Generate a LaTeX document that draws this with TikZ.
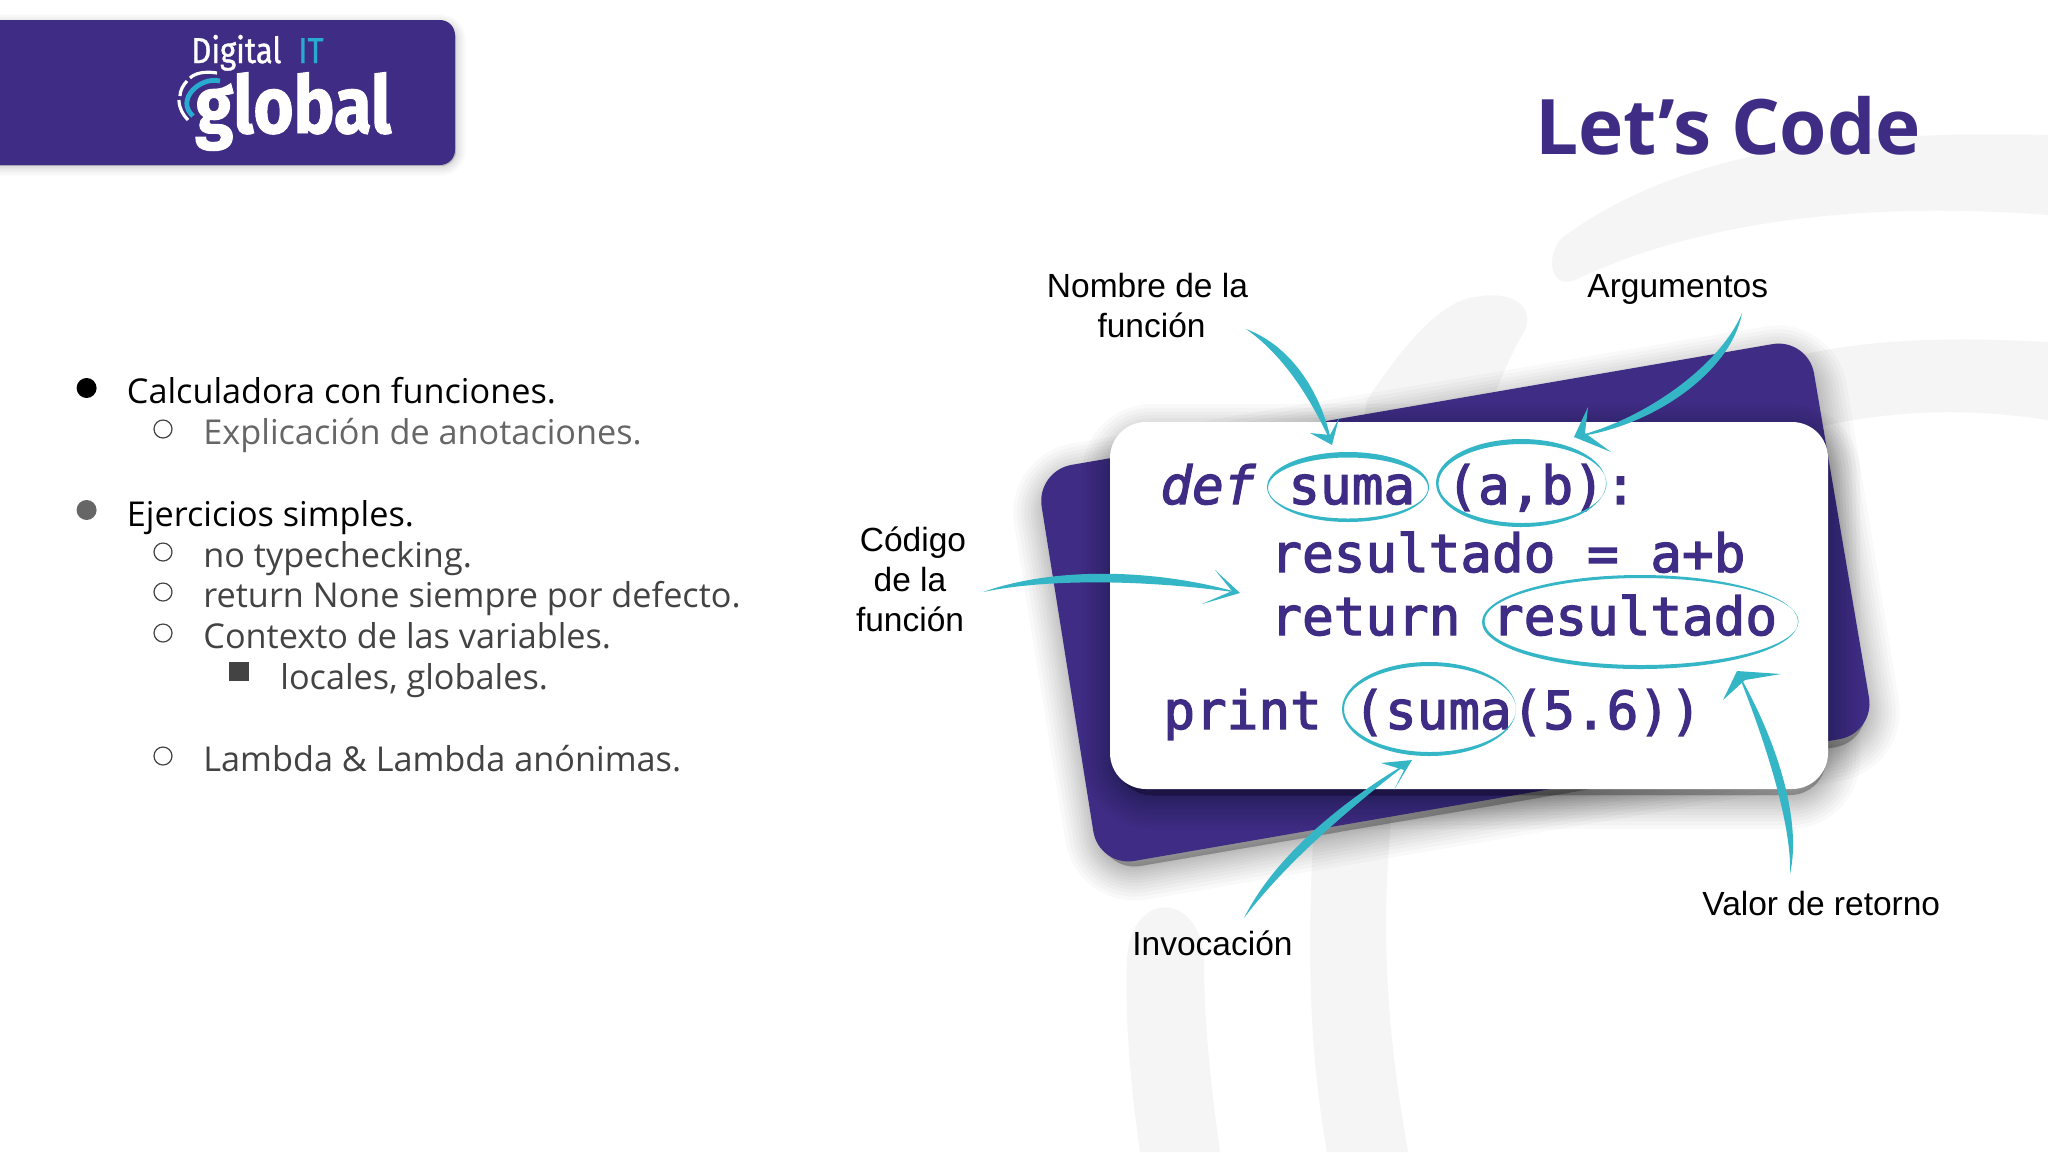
\documentclass[tikz,border=0pt]{standalone}
\usepackage{fontspec}
\setmainfont{Open Sans}
\newfontfamily\lblfont{Liberation Sans}
\newfontfamily\codefont[FakeBold=2.4]{DejaVu Sans Mono}
\newfontfamily\logofont[FakeStretch=0.86,FakeBold=1]{Fira Sans}
\newfontfamily\logobigfont[FakeStretch=0.86,FakeBold=1.2]{Fira Sans Bold}
\definecolor{brandpurple}{HTML}{3F2D85}
\definecolor{brandteal}{HTML}{35B6C6}
\definecolor{logocyan}{HTML}{29ABD0}
\definecolor{swirl}{HTML}{F5F5F5}
\definecolor{textdark}{HTML}{434343}
\definecolor{textgrey}{HTML}{666666}
\tikzset{
  lvlone/.style={anchor=base west,inner sep=0pt,font=\fontsize{17.12}{20}\selectfont,text=black},
  lvltwo/.style={anchor=base west,inner sep=0pt,font=\fontsize{17.12}{20}\selectfont,text=textdark},
  lbl/.style={inner sep=0pt,align=center,text=black,font=\lblfont\fontsize{16.75}{20}\selectfont},
  codetxt/.style={anchor=base west,inner sep=0pt,text=brandpurple,font=\codefont\fontsize{26.3}{30}\selectfont},
  ringo/.style={fill=brandteal,even odd rule,draw=none},
  openb/.style={draw=textdark,line width=.6pt,fill=white},
  arrowfill/.style={fill=brandteal,draw=none},
}
\newcommand{\softshadow}[4]{%
  \foreach \w in {3,7,11,15,20,25,30,36,42,48,55,62}{
    \draw[black,fill=black,opacity=#3,transparency group,line width=\w*#4pt,line join=round,shift={(#1)}] #2;
  }}
\newcommand{\ringshape}[7]{\fill[ringo] (#1,#2) ellipse [x radius=#3,y radius=#4] (#5,#6) ellipse [x radius=#3-1,y radius=#7];}
\begin{document}
\begin{tikzpicture}[x=.5pt,y=-.5pt]
\useasboundingbox (0,0) rectangle (2048,1152);
\fill[white] (0,0) rectangle (2048,1152);
% swirl background
\fill[swirl] (2048,135) .. controls (1850,130) and (1680,150) .. (1562,238) .. controls (1545,255) and (1550,290) .. (1575,280) .. controls (1690,225) and (1850,200) .. (2048,215) -- cycle;
\fill[swirl] (1700,390) .. controls (1800,340) and (1920,335) .. (2048,342) -- (2048,420) .. controls (1950,405) and (1850,410) .. (1740,450) -- cycle;
\fill[swirl] (1327,1152) .. controls (1300,1000) and (1300,800) .. (1367,400) .. controls (1400,350) and (1440,300) .. (1476,297) .. controls (1510,290) and (1535,305) .. (1525,330) .. controls (1470,420) and (1400,700) .. (1390,833) .. controls (1380,950) and (1390,1050) .. (1408,1152) -- cycle;
\fill[swirl] (1140,1152) .. controls (1130,1080) and (1125,1020) .. (1127,960) .. controls (1130,890) and (1200,890) .. (1204,960) .. controls (1204,1020) and (1210,1080) .. (1220,1152) -- cycle;
% logo banner
\softshadow{4,4}{[rounded corners=7.5pt] (-20,20) rectangle (452,162)}{.012}{.16}
\fill[brandpurple,rounded corners=7.5pt] (-20,20) rectangle (455,165);
\node[anchor=base west,inner sep=0pt,text=white,font=\logofont\fontsize{18}{20}\selectfont] (logoA) at (191,63) {Digital};
\node[anchor=base west,inner sep=0pt,text=logocyan,font=\logofont\fontsize{18}{20}\selectfont] (logoB) at (298,63) {IT};
\node[anchor=base west,inner sep=0pt,text=white,font=\logobigfont\fontsize{40}{44}\selectfont] (logoC) at (195,133) {global};
\draw[logocyan,line width=2.4pt] (220,81) .. controls (200,76) and (175,100) .. (193,116);
\draw[white,line width=1.6pt] (217,73) .. controls (205,71) and (195,73) .. (190,78);
\draw[white,line width=1.6pt] (187,81) .. controls (183,85) and (180,91) .. (180,96);
\draw[white,line width=1.6pt] (179,100) .. controls (179,108) and (183,115) .. (188,120);
% title
\node[anchor=base west,inner sep=0pt,text=brandpurple,font=\bfseries\fontsize{38.3}{44}\selectfont] (title) at (1535,154) {Let’s Code};
% bullets
\fill[black] (86.6,388) circle [radius=10];
\fill[textgrey] (86.6,510) circle [radius=10];
\draw[openb] (163,429) circle [radius=9];
\draw[openb] (163,552) circle [radius=9];
\draw[openb] (163,592) circle [radius=9];
\draw[openb] (163,633) circle [radius=9];
\draw[openb] (163,756) circle [radius=9];
\fill[textdark] (229.4,662) rectangle (249,681);
\node[lvlone] (b1) at (126.5,403) {Calculadora con funciones.};
\node[lvltwo,text=textgrey] (b2) at (203,444) {Explicación de anotaciones.};
\node[lvlone] (b3) at (126.5,526) {Ejercicios simples.};
\node[lvltwo] (b4) at (203,567) {no typechecking.};
\node[lvltwo] (b5) at (203,607.5) {return None siempre por defecto.};
\node[lvltwo] (b6) at (203,648) {Contexto de las variables.};
\node[lvltwo] (b7) at (280,689) {locales, globales.};
\node[lvltwo] (b8) at (203,771) {Lambda \& Lambda anónimas.};
% cards
\def\purplecard{[rounded corners=18pt] (1036,471) -- (1808,338) -- (1875,733) -- (1099,867) -- cycle}
\softshadow{2,12}{[rounded corners=18pt] (1040,471) -- (1805,342) -- (1869,729) -- (1103,860) -- cycle}{.025}{.55}
\fill[brandpurple] \purplecard;
\softshadow{2,12}{[rounded corners=18pt] (1114,426) rectangle (1824,783)}{.025}{.55}
\fill[white,rounded corners=18pt] (1110,422) rectangle (1828,789);
% code
\node[codetxt,font=\codefont\itshape\fontsize{26.3}{30}\selectfont] (cdef) at (1160,504) {def};
\node[codetxt] (csuma) at (1288,504) {suma};
\node[codetxt] (cargs) at (1446,504) {(a,b):};
\node[codetxt] (cres) at (1270,572) {resultado = a+b};
\node[codetxt] (cret) at (1270,635) {return resultado};
\node[codetxt] (cprint) at (1163,729) {print (suma(5.6))};
% rings
\ringshape{1348}{487}{81}{35}{1348}{488}{30.5}
\ringshape{1521}{483}{85}{44}{1522.5}{483.5}{39.5}
\ringshape{1640}{622}{158}{47}{1641.5}{621.5}{43.5}
\ringshape{1429}{709}{87}{47}{1430}{709}{43}
% labels
\node[lbl] (lnombre) at (1147.5,305.5) {Nombre de la\\\hspace*{4pt}función};
\node[lbl,anchor=base west] (largs) at (1587,297) {Argumentos};
\node[lbl] (lcodigo) at (910,579.5) {\hspace*{3pt}Código\\de la\\función};
\node[lbl,anchor=base west] (linvoc) at (1132,955) {Invocación};
\node[lbl,anchor=base west] (lvalor) at (1702,915) {Valor de retorno};
% connectors (tapered pen strokes)
\coordinate (ns) at (1246,329); \coordinate (nt) at (1332,445);
\coordinate (as) at (1742,313); \coordinate (at) at (1574,437);
\coordinate (cs) at (983,592); \coordinate (ct) at (1240,593);
\coordinate (is) at (1244,918); \coordinate (it) at (1412,760);
\coordinate (vs) at (1790,874); \coordinate (vt) at (1737,671);
\fill[arrowfill] (ns) .. controls (1294,347) and (1323,397) .. (nt) .. controls (1313,403) and (1286,357) .. (ns);
\fill[arrowfill] (nt) -- (1310,433) -- (1330,435) -- (1339,418) -- cycle;
\fill[arrowfill] (as) .. controls (1722,362) and (1650,418) .. (at) .. controls (1650,428) and (1731,373) .. (as);
\fill[arrowfill] (at) -- (1588,407) -- (1585,433) -- (1611,452) -- cycle;
\fill[arrowfill] (cs) .. controls (1050,568) and (1150,567) .. (ct) .. controls (1150,580) and (1050,578) .. (cs);
\fill[arrowfill] (ct) -- (1215,570) -- (1232,591) -- (1202,604) -- cycle;
\fill[arrowfill] (is) .. controls (1272,862) and (1332,807) .. (it) .. controls (1340,815) and (1282,868) .. (is);
\fill[arrowfill] (it) -- (1381,763) -- (1404,770) -- (1394,790) -- cycle;
\fill[arrowfill] (vs) .. controls (1802,820) and (1777,740) .. (vt) .. controls (1765,740) and (1792,825) .. (vs);
\fill[arrowfill] (vt) -- (1781,674) -- (1745,680) -- (1723,700) -- cycle;
\end{tikzpicture}
\end{document}
